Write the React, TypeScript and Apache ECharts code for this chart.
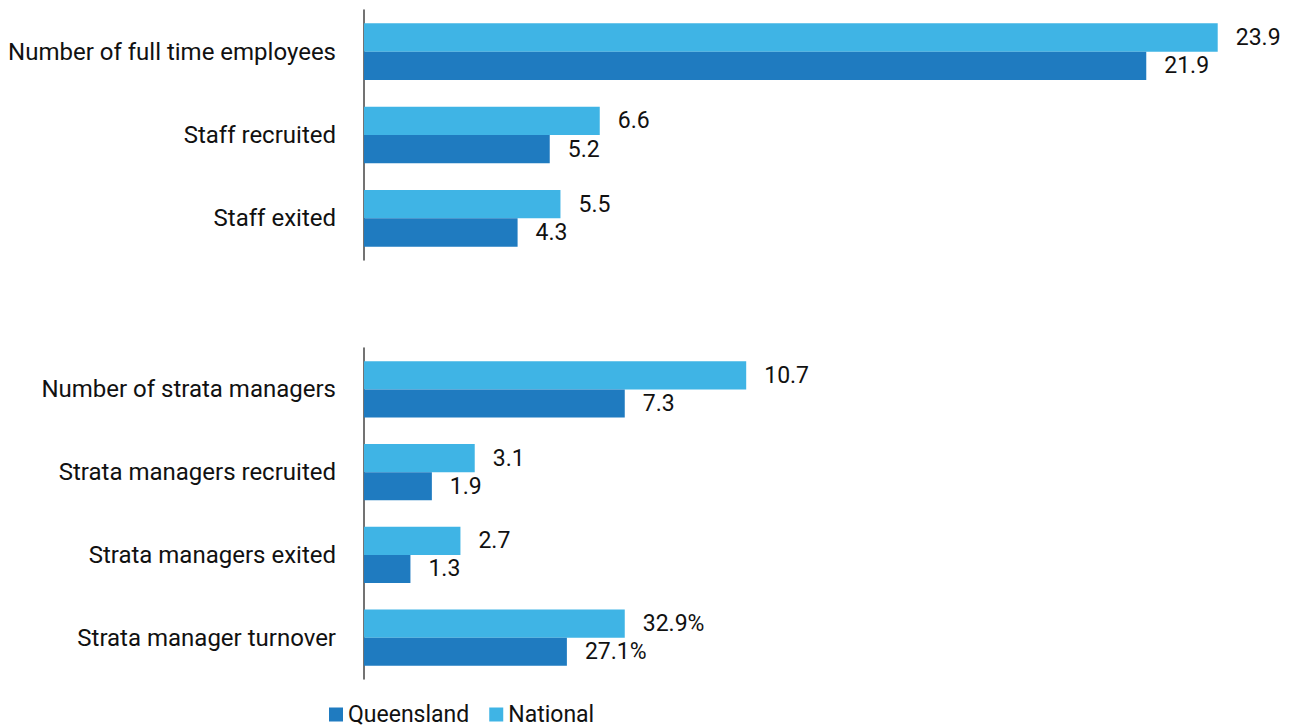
import React, { useEffect, useRef } from "react";
import * as echarts from "echarts";

const topCategories = ["Number of full time employees", "Staff recruited", "Staff exited"];
const topQueensland = [21.9, 5.2, 4.3];
const topNational = [23.9, 6.6, 5.5];

const bottomCategories = [
  "Number of strata managers",
  "Strata managers recruited",
  "Strata managers exited",
  "Strata manager turnover",
];
// bar lengths as drawn (turnover bars drawn in the same units as the chart shows)
const bottomQueensland = [7.3, 1.9, 1.3, 5.68];
const bottomNational = [10.7, 3.1, 2.7, 7.3];
const bottomQueenslandLabels = ["7.3", "1.9", "1.3", "27.1%"];
const bottomNationalLabels = ["10.7", "3.1", "2.7", "32.9%"];

const QLD = "#1f7bc0";
const NAT = "#3fb4e5";
const FONT = "Roboto";

export default function App() {
  const ref = useRef<HTMLDivElement>(null);
  useEffect(() => {
    if (!ref.current) return;
    const chart = echarts.init(ref.current, null, { renderer: "svg" });
    const labelStyle = {
      show: true,
      position: "right",
      distance: 18,
      fontFamily: FONT,
      fontSize: 23,
      color: "#111",
    };
    const yCommon = {
      type: "category",
      inverse: true,
      axisLine: { show: true, lineStyle: { color: "#444", width: 1.5 } },
      axisTick: { show: false },
      axisLabel: { margin: 28, fontFamily: FONT, fontSize: 24, color: "#111" },
    };
    const xCommon = {
      type: "value",
      min: 0,
      max: 25,
      show: false,
      splitLine: { show: false },
    };
    chart.setOption({
      animation: false,
      legend: {
        data: [
          { name: "Queensland", itemStyle: { color: QLD } },
          { name: "National", itemStyle: { color: NAT } },
        ],
        left: 324,
        top: 703,
        padding: [0, 5],
        icon: "rect",
        itemWidth: 14,
        itemHeight: 14,
        itemGap: 20,
        textStyle: { fontFamily: FONT, fontSize: 23, color: "#111", lineHeight: 23 },
      },
      grid: [
        { left: 364, right: 37, top: 10, height: 250 },
        { left: 364, right: 37, top: 348, height: 331 },
      ],
      xAxis: [
        { ...xCommon, gridIndex: 0 },
        { ...xCommon, gridIndex: 1 },
      ],
      yAxis: [
        { ...yCommon, gridIndex: 0, data: topCategories },
        { ...yCommon, gridIndex: 1, data: bottomCategories },
      ],
      series: [
        {
          name: "National",
          type: "bar",
          xAxisIndex: 0,
          yAxisIndex: 0,
          data: topNational,
          itemStyle: { color: NAT },
          barGap: "0%",
          barCategoryGap: "32%",
          label: { ...labelStyle },
        },
        {
          name: "Queensland",
          type: "bar",
          xAxisIndex: 0,
          yAxisIndex: 0,
          data: topQueensland,
          itemStyle: { color: QLD },
          barGap: "0%",
          barCategoryGap: "32%",
          label: { ...labelStyle },
        },
        {
          name: "National",
          type: "bar",
          xAxisIndex: 1,
          yAxisIndex: 1,
          data: bottomNational,
          itemStyle: { color: NAT },
          barGap: "0%",
          barCategoryGap: "32%",
          label: {
            ...labelStyle,
            formatter: (p: any) => bottomNationalLabels[p.dataIndex],
          },
        },
        {
          name: "Queensland",
          type: "bar",
          xAxisIndex: 1,
          yAxisIndex: 1,
          data: bottomQueensland,
          itemStyle: { color: QLD },
          barGap: "0%",
          barCategoryGap: "32%",
          label: {
            ...labelStyle,
            formatter: (p: any) => bottomQueenslandLabels[p.dataIndex],
          },
        },
      ],
    });
    return () => chart.dispose();
  }, []);
  return (
    <div
      ref={ref}
      style={{ position: "absolute", left: 0, top: 0, width: 1294, height: 728 }}
    />
  );
}
